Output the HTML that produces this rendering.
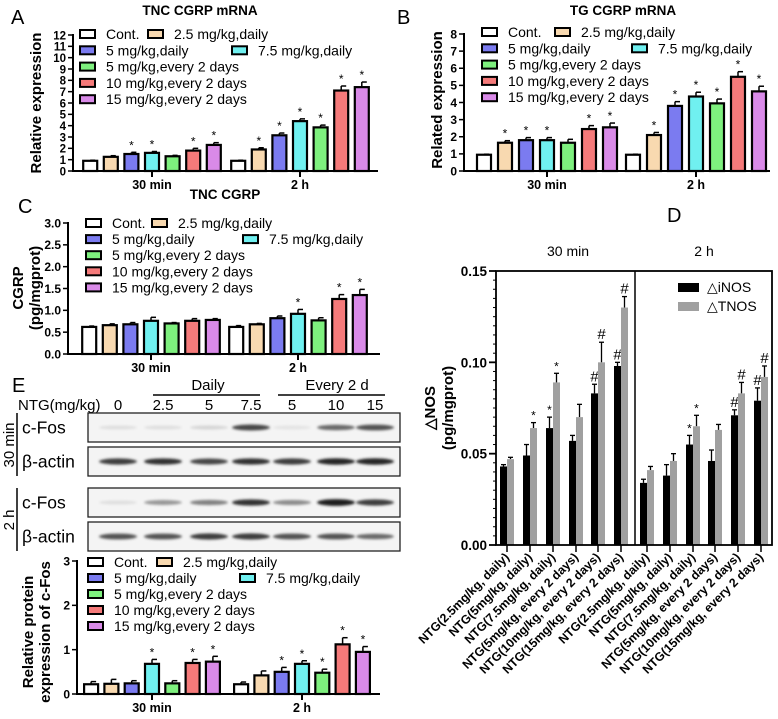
<!DOCTYPE html>
<html><head><meta charset="utf-8"><style>
body{margin:0;background:#fff}
svg{display:block;font-family:"Liberation Sans",Arial,sans-serif}
</style></head><body>
<svg id="fig" width="778" height="719" viewBox="0 0 778 719" xmlns="http://www.w3.org/2000/svg">
<defs><filter id="blur" x="-20%" y="-100%" width="140%" height="300%"><feGaussianBlur stdDeviation="1.3"/></filter></defs>
</svg>
<script>
// ---- Data ----
const groupLabels = ["30 min", "2 h"];
const seriesNames = ["Cont.", "2.5 mg/kg,daily", "5 mg/kg,daily", "7.5 mg/kg,daily", "5 mg/kg,every 2 days", "10 mg/kg,every 2 days", "15 mg/kg,every 2 days"];
const seriesColors = ["#ffffff", "#f8d9b0", "#7b7bf0", "#70f0f0", "#7ef07e", "#f57a7a", "#d98ae8"];

const aTicks = [0,1,2,3,4,5,6,7,8,9,10,11,12];
const a30 = [0.9,1.25,1.5,1.6,1.3,1.8,2.3];
const a2h = [0.9,1.9,3.15,4.4,3.85,7.1,7.4];
const a30err = [0.05,0.1,0.15,0.12,0.08,0.2,0.2];
const a2herr = [0.05,0.15,0.2,0.2,0.2,0.4,0.45];
const a30star = [0,0,1,1,0,1,1];
const a2hstar = [0,1,1,1,1,1,1];

const bTicks = [0,1,2,3,4,5,6,7,8];
const b30 = [0.95,1.65,1.8,1.8,1.65,2.45,2.55];
const b2h = [0.95,2.1,3.8,4.35,3.95,5.5,4.65];
const b30err = [0.03,0.12,0.15,0.15,0.2,0.2,0.25];
const b2herr = [0.03,0.15,0.25,0.25,0.25,0.3,0.3];
const b30star = [0,1,1,1,0,1,1];
const b2hstar = [0,1,1,1,1,1,1];

const cTicks = [0,0.5,1.0,1.5,2.0,2.5,3.0];
const cTickLabels = ["0.0","0.5","1.0","1.5","2.0","2.5","3.0"];
const c30 = [0.62,0.66,0.68,0.76,0.70,0.76,0.78];
const c2h = [0.62,0.68,0.82,0.92,0.77,1.26,1.35];
const c30err = [0.02,0.03,0.04,0.08,0.02,0.05,0.03];
const c2herr = [0.03,0.02,0.05,0.1,0.06,0.1,0.13];
const c30star = [0,0,0,0,0,0,0];
const c2hstar = [0,0,0,1,0,1,1];

const eTicks = [0,1,2,3];
const e30 = [0.22,0.23,0.24,0.68,0.24,0.70,0.73];
const e2h = [0.22,0.42,0.5,0.68,0.48,1.12,0.95];
const e30err = [0.06,0.1,0.06,0.1,0.06,0.08,0.12];
const e2herr = [0.05,0.1,0.1,0.07,0.08,0.15,0.12];
const e30star = [0,0,0,1,0,1,1];
const e2hstar = [0,0,1,1,1,1,1];

const dCategories = ["NTG(2.5mg/kg, daily)","NTG(5mg/kg, daily)","NTG(7.5mg/kg, daily)","NTG(5mg/kg, every 2 days)","NTG(10mg/kg, every 2 days)","NTG(15mg/kg, every 2 days)","NTG(2.5mg/kg, daily)","NTG(5mg/kg, daily)","NTG(7.5mg/kg, daily)","NTG(5mg/kg, every 2 days)","NTG(10mg/kg, every 2 days)","NTG(15mg/kg, every 2 days)"];
const dINOS = [0.043,0.049,0.064,0.057,0.083,0.098,0.034,0.038,0.055,0.046,0.071,0.079];
const dTNOS = [0.047,0.064,0.089,0.070,0.100,0.130,0.041,0.046,0.065,0.063,0.083,0.092];
const dINOSerr = [0.001,0.006,0.006,0.003,0.005,0.002,0.002,0.006,0.005,0.006,0.003,0.007];
const dTNOSerr = [0.001,0.003,0.005,0.007,0.011,0.006,0.002,0.004,0.006,0.003,0.006,0.006];
const dINOSmark = ["","","*","","#","#","","","*","","#","#"];
const dTNOSmark = ["","*","*","","#","#","","","*","","#","#"];
const dTicks = [0,0.05,0.10,0.15];
const dTickLabels = ["0.00","0.05","0.10","0.15"];

const laneLabels = ["0","2.5","5","7.5","5","10","15"];
const fos30 = [0.08,0.08,0.12,0.75,0.06,0.6,0.7];
const act30 = [0.8,0.85,0.75,0.85,0.8,0.9,0.9];
const fos2h = [0.08,0.4,0.5,0.85,0.45,0.95,0.8];
const act2h = [0.7,0.7,0.8,0.8,0.7,0.7,0.6];

// ---- Helpers ----
const svg = document.getElementById('fig');
const NS = "http://www.w3.org/2000/svg";
function mk(tag, attrs, parent, txt){
  const e = document.createElementNS(NS, tag);
  for (const k in attrs) e.setAttribute(k, attrs[k]);
  if (txt !== undefined) e.textContent = txt;
  (parent || svg).appendChild(e);
  return e;
}
function grp(name, parent){
  const g = mk('g', {}, parent);
  
  
  return g;
}

function barChart(o){
  const g = grp(o.name);
  const sy = v => o.y0 - v / o.max * (o.y0 - o.yTop);
  [o.v30, o.v2h].forEach((vals, gi) => {
    const errs = gi ? o.e2h : o.e30, stars = gi ? o.s2h : o.s30;
    const cx = o.centers[gi];
    vals.forEach((v, i) => {
      const x = cx + (i - 3) * o.pitch - o.w / 2;
      const top = sy(v), et = sy(v + errs[i]);
      const mid = x + o.w / 2;
      const el = mk('line', {x1: mid, x2: mid, y1: top, y2: et, stroke: '#000', 'stroke-width': 1.5}, g);
      
      
      const cap = mk('line', {x1: mid, x2: mid + 5, y1: et, y2: et, stroke: '#000', 'stroke-width': 1.5}, g);
      
      
      const r = mk('rect', {x: x, y: top, width: o.w, height: o.y0 - top, fill: seriesColors[i], stroke: '#000', 'stroke-width': 2.2}, g);
      
      
      if (stars[i]) {
        const s = mk('text', {x: mid, y: et + 5, 'font-size': 12, 'text-anchor': 'middle'}, g, '*');
        
        
        s.setAttribute('transform', `translate(0,-8)`);
      }
    });
  });
  const ya = mk('line', {x1: o.x0, x2: o.x0, y1: o.yTop - 1, y2: o.y0 + 1, stroke: '#000', 'stroke-width': 2}, g);
  
  
  const xa = mk('line', {x1: o.x0, x2: o.x1, y1: o.y0, y2: o.y0, stroke: '#000', 'stroke-width': 2}, g);
  
  
  o.ticks.forEach((t, i) => {
    const y = sy(t);
    mk('line', {x1: o.x0 - 5, x2: o.x0, y1: y, y2: y, stroke: '#000', 'stroke-width': 1.5}, g);
    const tl = mk('text', {x: o.x0 - 7, y: y + 4.3, 'font-size': o.tfs || 12.5, 'font-weight': 'bold', 'text-anchor': 'end'}, g, o.tickLabels ? o.tickLabels[i] : t);
    
    
  });
  o.centers.forEach((c, i) => {
    mk('line', {x1: c, x2: c, y1: o.y0, y2: o.y0 + 6, stroke: '#000', 'stroke-width': 2}, g);
    const xl = mk('text', {x: c, y: o.y0 + 18, 'font-size': 12.5, 'font-weight': 'bold', 'text-anchor': 'middle'}, g, groupLabels[i]);
    
    
  });
  const L = o.leg;
  const pos = [[L.x1, 0], [L.x2, 0], [L.x1, 1], [L.x3, 1], [L.x1, 2], [L.x1, 3], [L.x1, 4]];
  pos.forEach((p, i) => {
    const y = L.y + p[1] * L.dy;
    const lg = grp('legend-entry', g);
    mk('rect', {x: p[0], y: y - 4, width: 15, height: 8, fill: seriesColors[i], stroke: '#000', 'stroke-width': 2}, lg);
    mk('text', {x: p[0] + 26, y: y + 5, 'font-size': 14}, lg, seriesNames[i]);
  });
  const yt = mk('text', {transform: `translate(${o.yt.x},${o.yt.y}) rotate(-90)`, 'font-size': 15, 'font-weight': 'bold', 'text-anchor': 'middle'}, g);
  
  
  o.yt.lines.forEach((ln, i) => mk('tspan', {x: 0, dy: i ? 17 : 0}, yt, ln));
}

function label(txt, x, y, size, bold, name, anchor){
  const t = mk('text', {x: x, y: y, 'font-size': size, 'font-weight': bold ? 'bold' : 'normal', 'text-anchor': anchor || 'start'}, svg, txt);
  
  
  return t;
}

// ---- Panel A ----
label("A", 11, 24, 20, false, 'panel-label-a');
label("TNC CGRP mRNA", 200, 15, 13.5, true, 'chart-title-a', 'middle');
barChart({name: 'panel-a', x0: 73, x1: 378, y0: 171, yTop: 35, max: 12, ticks: aTicks, centers: [152, 300], pitch: 20.6, w: 14,
  v30: a30, v2h: a2h, e30: a30err, e2h: a2herr, s30: a30star, s2h: a2hstar, tfs: 11.5,
  leg: {x1: 80, x2: 148, x3: 232, y: 34, dy: 16.3}, yt: {x: 41, y: 103, lines: ["Relative expression"]}});

// ---- Panel B ----
label("B", 397, 24, 20, false, 'panel-label-b');
label("TG CGRP mRNA", 623, 15, 13.5, true, 'chart-title-b', 'middle');
barChart({name: 'panel-b', x0: 464, x1: 770, y0: 171, yTop: 34, max: 8, ticks: bTicks, centers: [547, 696], pitch: 21, w: 14,
  v30: b30, v2h: b2h, e30: b30err, e2h: b2herr, s30: b30star, s2h: b2hstar, tfs: 12,
  leg: {x1: 482, x2: 555, x3: 632, y: 32, dy: 16.3}, yt: {x: 442, y: 100, lines: ["Related expression"]}});

// ---- Panel C ----
label("C", 18, 213, 20, false, 'panel-label-c');
label("TNC CGRP", 225, 199, 13.5, true, 'chart-title-c', 'middle');
barChart({name: 'panel-c', x0: 68, x1: 380, y0: 354, yTop: 223, max: 3, ticks: cTicks, tickLabels: cTickLabels, centers: [151, 298], pitch: 20.6, w: 14,
  v30: c30, v2h: c2h, e30: c30err, e2h: c2herr, s30: c30star, s2h: c2hstar, tfs: 12,
  leg: {x1: 86, x2: 152, x3: 243, y: 223, dy: 16.1}, yt: {x: 23, y: 288, lines: ["CGRP", "(pg/mgprot)"]}});

// ---- Panel E chart ----
barChart({name: 'panel-e-chart', x0: 77, x1: 380, y0: 694, yTop: 561, max: 3, ticks: eTicks, centers: [152, 302], pitch: 20.3, w: 14,
  v30: e30, v2h: e2h, e30: e30err, e2h: e2herr, s30: e30star, s2h: e2hstar, tfs: 12,
  leg: {x1: 88, x2: 157, x3: 240, y: 562, dy: 16}, yt: {x: 33, y: 632, lines: ["Relative protein", "expression of c-Fos"]}});

// ---- Panel E blots ----
label("E", 12, 392, 20, false, 'panel-label-e');
label("Daily", 208, 390, 15, false, 'daily-header', 'middle');
mk('line', {x1: 153, x2: 260, y1: 395, y2: 395, stroke: '#000', 'stroke-width': 1.5});
label("Every 2 d", 337, 390, 15, false, 'every-2d-header', 'middle');
mk('line', {x1: 278, x2: 385, y1: 395, y2: 395, stroke: '#000', 'stroke-width': 1.5});
label("NTG(mg/kg)", 18, 410, 15, false, 'ntg-dose-label');
const laneX = [118, 163, 209, 251, 292, 336, 375];
laneLabels.forEach((l, i) => label(l, laneX[i], 410, 15, false, 'lane-label', 'middle'));
function blot(y, h, vals, name, lbl){
  const g = grp(name);
  mk('rect', {x: 88, y: y, width: 312, height: h, fill: '#f4f4f4', stroke: '#222', 'stroke-width': 1.3}, g);
  vals.forEach((v, i) => {
    const c = Math.round(240 - v * 225);
    const b = mk('ellipse', {cx: laneX[i], cy: y + h / 2, rx: 19, ry: 1.8 + v * 1.6, fill: `rgb(${c},${c},${c})`, filter: 'url(#blur)'}, g);
    
    
  });
  mk('text', {x: 22, y: y + h / 2 + 6, 'font-size': 17.5}, g, lbl);
}
blot(413, 29, fos30, 'blot-30min-cfos', 'c-Fos');
blot(447, 29, act30, 'blot-30min-actin', 'β-actin');
blot(488, 29, fos2h, 'blot-2h-cfos', 'c-Fos');
blot(522, 29, act2h, 'blot-2h-actin', 'β-actin');
mk('line', {x1: 17, x2: 17, y1: 413, y2: 476, stroke: '#000', 'stroke-width': 1.5});
mk('line', {x1: 17, x2: 17, y1: 488, y2: 551, stroke: '#000', 'stroke-width': 1.5});
mk('text', {transform: 'translate(14,445) rotate(-90)', 'font-size': 15, 'text-anchor': 'middle'}, svg, '30 min');
mk('text', {transform: 'translate(14,520) rotate(-90)', 'font-size': 15, 'text-anchor': 'middle'}, svg, '2 h');

// ---- Panel D ----
label("D", 667, 222, 20, false, 'panel-label-d');
(function(){
  const g = grp('panel-d');
  const x0 = 496, x1 = 772, y0 = 545, yTop = 271, max = 0.15;
  const sy = v => y0 - v / max * (y0 - yTop);
  const centers = [507, 530, 553, 576, 598, 621, 647, 670, 693, 715, 738, 761];
  const bw = 7;
  dCategories.forEach((c, i) => {
    const cx = centers[i];
    [[dINOS, dINOSerr, dINOSmark, '#000', cx - bw], [dTNOS, dTNOSerr, dTNOSmark, '#a0a0a0', cx]].forEach((s, k) => {
      const v = s[0][i], e = s[1][i], top = sy(v), et = sy(v + e);
      const mid = s[4] + bw / 2;
      mk('line', {x1: mid, x2: mid, y1: top, y2: et, stroke: '#000', 'stroke-width': 1.3}, g);
      mk('line', {x1: mid - 2.5, x2: mid + 2.5, y1: et, y2: et, stroke: '#000', 'stroke-width': 1.3}, g);
      const r = mk('rect', {x: s[4], y: top, width: bw, height: y0 - top, fill: s[3]}, g);
      
      
      if (s[2][i]) {
        const m = s[2][i] === '#';
        const t = mk('text', {x: mid, y: et - (m ? 3 : -5), 'font-size': m ? 15 : 12, 'text-anchor': 'middle'}, g, s[2][i]);
        if (!m) t.setAttribute('transform', 'translate(0,-8)');
        
        
      }
    });
    mk('line', {x1: cx, x2: cx, y1: y0, y2: y0 + 7, stroke: '#000', 'stroke-width': 1.5}, g);
    const tl = mk('text', {transform: `translate(${cx + 3},${y0 + 13}) rotate(-45)`, 'font-size': 12.3, 'font-weight': 'bold', 'text-anchor': 'end'}, g, c);
    
    
  });
  const box = mk('rect', {x: x0, y: yTop, width: x1 - x0, height: y0 - yTop, fill: 'none', stroke: '#000', 'stroke-width': 1.8}, g);
  
  
  mk('line', {x1: 635, x2: 635, y1: yTop, y2: y0, stroke: '#000', 'stroke-width': 1.5}, g);
  for (let v = 0; v <= 0.1501; v += 0.005) {
    const y = sy(v);
    mk('line', {x1: x0 - 3, x2: x0, y1: y, y2: y, stroke: '#000', 'stroke-width': 1}, g);
  }
  dTicks.forEach((t, i) => {
    const y = sy(t);
    mk('line', {x1: x0 - 7, x2: x0, y1: y, y2: y, stroke: '#000', 'stroke-width': 1.8}, g);
    const l = mk('text', {x: x0 - 9, y: y + 5, 'font-size': 13.5, 'font-weight': 'bold', 'text-anchor': 'end'}, g, dTickLabels[i]);
    
    
  });
  mk('text', {x: 568, y: 256, 'font-size': 14, 'text-anchor': 'middle'}, g, '30 min');
  mk('text', {x: 704, y: 256, 'font-size': 14, 'text-anchor': 'middle'}, g, '2 h');
  const lg1 = grp('legend-entry', g);
  mk('rect', {x: 678, y: 283, width: 21, height: 9, fill: '#000'}, lg1);
  mk('text', {x: 707, y: 292, 'font-size': 14}, lg1, '△iNOS');
  const lg2 = grp('legend-entry', g);
  mk('rect', {x: 678, y: 302, width: 21, height: 9, fill: '#a0a0a0'}, lg2);
  mk('text', {x: 707, y: 311, 'font-size': 14}, lg2, '△TNOS');
  const yt = mk('text', {transform: 'translate(435,408) rotate(-90)', 'font-size': 15, 'font-weight': 'bold', 'text-anchor': 'middle'}, g);
  
  
  mk('tspan', {x: 0, dy: 0}, yt, '△NOS');
  mk('tspan', {x: 0, dy: 18}, yt, '(pg/mgprot)');
})();
</script>
</body></html>
